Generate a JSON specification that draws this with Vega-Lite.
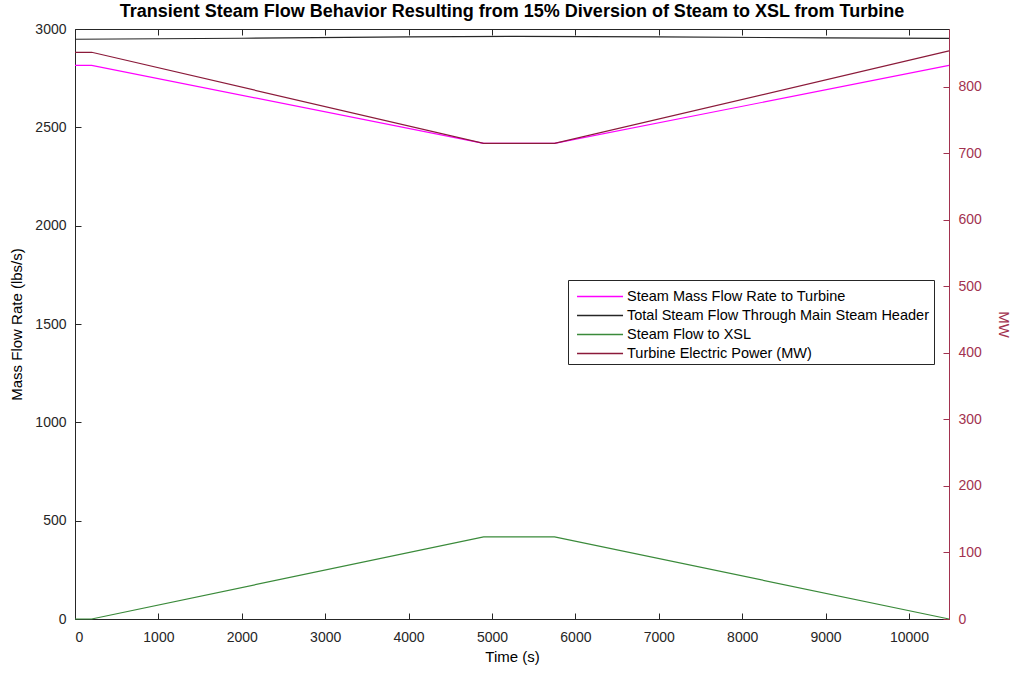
{
  "$schema": "https://vega.github.io/schema/vega-lite/v6.json",
  "width": 874,
  "height": 590,
  "autosize": "none",
  "padding": {"left": 75, "top": 29, "right": 64, "bottom": 55},
  "background": "white",
  "title": {"text": "Transient Steam Flow Behavior Resulting from 15% Diversion of Steam to XSL from Turbine", "font": "Liberation Sans", "fontSize": 18, "fontWeight": "bold", "color": "#000000", "offset": 1, "anchor": "middle"},
  "config": {
    "view": {"stroke": "#262626", "strokeWidth": 1},
    "axis": {"labelFont": "Liberation Sans", "titleFont": "Liberation Sans", "labelFontSize": 14, "titleFontSize": 15, "titleFontWeight": "normal", "labelColor": "#262626", "titleColor": "#000000", "domainColor": "#262626", "tickColor": "#262626", "grid": false, "tickSize": -6, "labelPadding": 15, "format": "d"}
  },
  "datasets": {
    "flows": [
      {"t": 0, "value": 2815, "series": "Steam Mass Flow Rate to Turbine"},
      {"t": 200, "value": 2815, "series": "Steam Mass Flow Rate to Turbine"},
      {"t": 4900, "value": 2418, "series": "Steam Mass Flow Rate to Turbine"},
      {"t": 5750, "value": 2418, "series": "Steam Mass Flow Rate to Turbine"},
      {"t": 10480, "value": 2815, "series": "Steam Mass Flow Rate to Turbine"},
      {"t": 0, "value": 2948, "series": "Total Steam Flow Through Main Steam Header"},
      {"t": 2000, "value": 2953, "series": "Total Steam Flow Through Main Steam Header"},
      {"t": 4000, "value": 2960, "series": "Total Steam Flow Through Main Steam Header"},
      {"t": 5300, "value": 2963, "series": "Total Steam Flow Through Main Steam Header"},
      {"t": 7000, "value": 2960, "series": "Total Steam Flow Through Main Steam Header"},
      {"t": 9000, "value": 2955, "series": "Total Steam Flow Through Main Steam Header"},
      {"t": 10480, "value": 2952, "series": "Total Steam Flow Through Main Steam Header"},
      {"t": 0, "value": 0, "series": "Steam Flow to XSL"},
      {"t": 200, "value": 0, "series": "Steam Flow to XSL"},
      {"t": 4900, "value": 418, "series": "Steam Flow to XSL"},
      {"t": 5750, "value": 418, "series": "Steam Flow to XSL"},
      {"t": 10480, "value": 0, "series": "Steam Flow to XSL"}
    ],
    "power": [
      {"t": 0, "mw": 852, "series": "Turbine Electric Power (MW)"},
      {"t": 200, "mw": 852, "series": "Turbine Electric Power (MW)"},
      {"t": 4900, "mw": 715, "series": "Turbine Electric Power (MW)"},
      {"t": 5750, "mw": 715, "series": "Turbine Electric Power (MW)"},
      {"t": 10480, "mw": 854, "series": "Turbine Electric Power (MW)"}
    ]
  },
  "layer": [
    {
      "data": {"name": "flows"},
      "mark": {"type": "line", "strokeWidth": 1.2},
      "encoding": {
        "x": {"field": "t", "type": "quantitative", "scale": {"domain": [0, 10480], "nice": false, "zero": false}, "axis": {"title": "Time (s)", "values": [0,1000,2000,3000,4000,5000,6000,7000,8000,9000,10000], "labelPadding": 17, "titlePadding": 5, "domain": false}},
        "y": {"field": "value", "type": "quantitative", "scale": {"domain": [0, 3000], "nice": false}, "axis": {"title": "Mass Flow Rate (lbs/s)", "values": [0,500,1000,1500,2000,2500,3000], "titlePadding": 10, "domain": false}},
        "color": {"field": "series", "type": "nominal", "sort": null,
          "scale": {"domain": ["Steam Mass Flow Rate to Turbine", "Total Steam Flow Through Main Steam Header", "Steam Flow to XSL", "Turbine Electric Power (MW)"], "range": ["#ff00ff", "#262626", "#3a8a3a", "#8b1a3a"]},
          "legend": {"title": null, "orient": "none", "legendX": 493, "legendY": 251, "symbolType": "M-0.65,0H3.35", "symbolSize": 529, "symbolStrokeWidth": 1.3, "symbolFillColor": "transparent", "symbolOpacity": 1, "labelFont": "Liberation Sans", "labelFontSize": 14.5, "labelColor": "#000000", "labelLimit": 0, "strokeColor": "#262626", "padding": 4, "rowPadding": -1, "labelOffset": 30, "fillColor": "white"}
        },
        "detail": {"field": "series"}
      }
    },
    {
      "data": {"name": "power"},
      "mark": {"type": "line", "strokeWidth": 1.2},
      "encoding": {
        "x": {"field": "t", "type": "quantitative", "scale": {"domain": [0, 10480], "nice": false, "zero": false}, "axis": {"orient": "top", "labels": false, "title": null, "values": [0,1000,2000,3000,4000,5000,6000,7000,8000,9000,10000], "domain": false}},
        "y": {"field": "mw", "type": "quantitative", "scale": {"domain": [0, 887], "nice": false}, "axis": {"orient": "right", "title": "MW", "values": [0,100,200,300,400,500,600,700,800], "labelColor": "#a2324f", "titleColor": "#a2324f", "tickColor": "#a2324f", "domainColor": "#a2324f", "domain": true, "titlePadding": 14}},
        "color": {"field": "series", "type": "nominal"}
      }
    }
  ],
  "resolve": {"scale": {"y": "independent"}, "axis": {"x": "independent"}}
}
